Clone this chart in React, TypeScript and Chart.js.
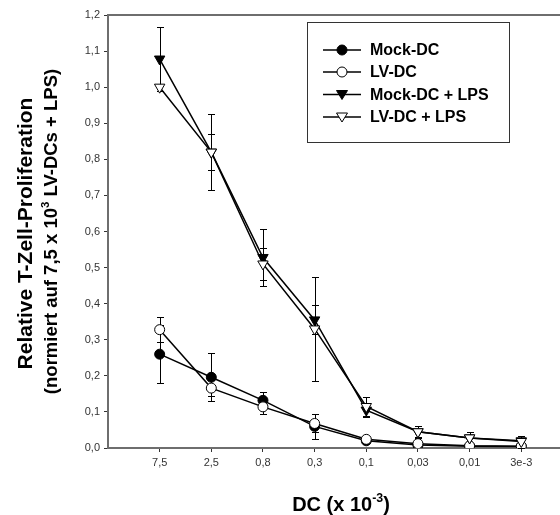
import React, { useEffect, useRef } from "react";
import { Chart, registerables } from "chart.js";

Chart.register(...registerables);

const categories = ["7,5", "2,5", "0,8", "0,3", "0,1", "0,03", "0,01", "3e-3"];
const yTicks = [0, 0.1, 0.2, 0.3, 0.4, 0.5, 0.6, 0.7, 0.8, 0.9, 1.0, 1.1, 1.2];

const mockDC = [0.26, 0.196, 0.132, 0.06, 0.02, 0.008, 0.005, 0.004];
const mockDCErr = [0.08, 0.066, 0.024, 0.035, 0.005, 0.004, 0.003, 0.003];
const lvDC = [0.328, 0.166, 0.114, 0.068, 0.024, 0.012, 0.006, 0.005];
const lvDCErr = [0.034, 0.023, 0.021, 0.025, 0.006, 0.004, 0.003, 0.003];
const mockLPS = [1.078, 0.82, 0.528, 0.355, 0.105, 0.045, 0.028, 0.02];
const mockLPSErr = [0.09, 0.105, 0.08, 0.04, 0.02, 0.015, 0.015, 0.013];
const lvLPS = [1.0, 0.82, 0.51, 0.33, 0.115, 0.045, 0.028, 0.018];
const lvLPSErr = [0, 0.05, 0.045, 0.145, 0.025, 0.017, 0.017, 0.015];

const seriesNames = ["Mock-DC", "LV-DC", "Mock-DC + LPS", "LV-DC + LPS"];

type Part = { t: string; sup?: boolean };

function drawRich(ctx: CanvasRenderingContext2D, parts: Part[], cx: number, baseY: number, size: number) {
  const font = (s: number) => `bold ${s}px Arial, "Liberation Sans", sans-serif`;
  let total = 0;
  const widths = parts.map((p) => {
    ctx.font = font(p.sup ? size * 0.62 : size);
    const w = ctx.measureText(p.t).width;
    total += w;
    return w;
  });
  let x = cx - total / 2;
  ctx.textAlign = "left";
  ctx.textBaseline = "alphabetic";
  parts.forEach((p, i) => {
    ctx.font = font(p.sup ? size * 0.62 : size);
    ctx.fillText(p.t, x, p.sup ? baseY - size * 0.45 : baseY);
    x += widths[i];
  });
}

export default function App() {
  const ref = useRef<HTMLCanvasElement | null>(null);

  useEffect(() => {
    if (!ref.current) return;
    const xs = categories.map((_, i) => i + 1);
    const mk = (vals: number[]) => vals.map((v, i) => ({ x: xs[i], y: v }));
    const errs = [mockDCErr, lvDCErr, mockLPSErr, lvLPSErr];

    const errorBars = {
      id: "errorBars",
      beforeDatasetsDraw(chart: any) {
        const ctx = chart.ctx;
        const xS = chart.scales.x;
        const yS = chart.scales.y;
        ctx.save();
        ctx.strokeStyle = "#000";
        ctx.lineWidth = 1;
        chart.data.datasets.forEach((ds: any, di: number) => {
          ds.data.forEach((p: any, i: number) => {
            const e = errs[di][i];
            if (!e) return;
            const px = Math.round(xS.getPixelForValue(p.x)) + 0.5;
            const yt = Math.round(yS.getPixelForValue(p.y + e)) + 0.5;
            const yb = Math.round(yS.getPixelForValue(Math.max(0, p.y - e))) + 0.5;
            ctx.beginPath();
            ctx.moveTo(px, yt);
            ctx.lineTo(px, yb);
            ctx.moveTo(px - 3.5, yt);
            ctx.lineTo(px + 3.5, yt);
            ctx.moveTo(px - 3.5, yb);
            ctx.lineTo(px + 3.5, yb);
            ctx.stroke();
          });
        });
        ctx.restore();
      },
    };

    const decor = {
      id: "decor",
      afterDraw(chart: any) {
        const ctx = chart.ctx as CanvasRenderingContext2D;
        const a = chart.chartArea;
        ctx.save();
        // top frame line
        ctx.strokeStyle = "#6e6e6e";
        ctx.lineWidth = 2;
        ctx.beginPath();
        ctx.moveTo(a.left - 1, a.top);
        ctx.lineTo(chart.width, a.top);
        ctx.stroke();

        // legend
        ctx.strokeStyle = "#333";
        ctx.lineWidth = 1;
        ctx.strokeRect(307.5, 22.5, 202, 120);
        const rowsY = [50, 72, 94.5, 117];
        chart.data.datasets.forEach((ds: any, i: number) => {
          const y = rowsY[i];
          ctx.strokeStyle = "#000";
          ctx.lineWidth = 1.5;
          ctx.beginPath();
          ctx.moveTo(323, y);
          ctx.lineTo(361, y);
          ctx.stroke();
          ctx.fillStyle = ds.pointBackgroundColor;
          ctx.lineWidth = 1;
          ctx.beginPath();
          if (ds.pointStyle === "circle") {
            ctx.arc(342, y, 5, 0, Math.PI * 2);
          } else {
            ctx.moveTo(336.5, y - 4);
            ctx.lineTo(347.5, y - 4);
            ctx.lineTo(342, y + 5);
            ctx.closePath();
          }
          ctx.fill();
          ctx.stroke();
          ctx.fillStyle = "#000";
          ctx.font = 'bold 16px Arial, "Liberation Sans", sans-serif';
          ctx.textAlign = "left";
          ctx.textBaseline = "middle";
          ctx.fillText(seriesNames[i], 370, y + 1);
        });

        // axis titles
        ctx.fillStyle = "#000";
        const cy = (a.top + a.bottom) / 2;
        ctx.save();
        ctx.translate(32, cy + 2);
        ctx.rotate(-Math.PI / 2);
        drawRich(ctx, [{ t: "Relative T-Zell-Proliferation" }], 0, 0, 21);
        ctx.restore();
        ctx.save();
        ctx.translate(57, cy);
        ctx.rotate(-Math.PI / 2);
        drawRich(
          ctx,
          [{ t: "(normiert auf 7,5 x 10" }, { t: "3", sup: true }, { t: " LV-DCs + LPS)" }],
          0,
          0,
          18.5
        );
        ctx.restore();
        drawRich(ctx, [{ t: "DC (x 10" }, { t: "-3", sup: true }, { t: ")" }], 341, 511, 20);
        ctx.restore();
      },
    };

    const chart = new Chart(ref.current, {
      type: "line",
      data: {
        datasets: [
          { label: seriesNames[0], data: mk(mockDC), pointStyle: "circle", pointRadius: 5, pointBackgroundColor: "#000", order: 3 },
          { label: seriesNames[1], data: mk(lvDC), pointStyle: "circle", pointRadius: 5, pointBackgroundColor: "#fff", order: 2 },
          { label: seriesNames[2], data: mk(mockLPS), pointStyle: "triangle", pointRotation: 180, pointRadius: 6, pointBackgroundColor: "#000", order: 1 },
          { label: seriesNames[3], data: mk(lvLPS), pointStyle: "triangle", pointRotation: 180, pointRadius: 6, pointBackgroundColor: "#fff", order: 0 },
        ].map((d) => ({
          ...d,
          borderColor: "#000",
          borderWidth: 1.5,
          pointBorderColor: "#000",
          pointBorderWidth: 1,
          fill: false,
          tension: 0,
        })) as any,
      },
      options: {
        animation: false,
        responsive: false,
        events: [],
        layout: { padding: { top: 15, left: 0, right: 0, bottom: 0 }, autoPadding: false } as any,
        plugins: { legend: { display: false }, tooltip: { enabled: false } },
        scales: {
          x: {
            type: "linear",
            min: 0,
            max: 8.75,
            afterBuildTicks: (s: any) => {
              s.ticks = categories.map((_, i) => ({ value: i + 1 }));
            },
            afterFit: (s: any) => {
              s.height = 67;
            },
            ticks: {
              autoSkip: false,
              maxRotation: 0,
              padding: 4,
              color: "#333",
              font: { family: 'Arial, "Liberation Sans", sans-serif', size: 11 },
              callback: (v: any) => categories[Math.round(v) - 1] ?? "",
            },
            grid: { drawOnChartArea: false, drawTicks: true, tickLength: 4, color: "#333", lineWidth: 1 },
            border: { display: true, color: "#6e6e6e", width: 2 },
          },
          y: {
            type: "linear",
            min: 0,
            max: 1.2,
            afterBuildTicks: (s: any) => {
              s.ticks = yTicks.map((v) => ({ value: v }));
            },
            afterFit: (s: any) => {
              s.width = 108;
            },
            ticks: {
              padding: 4,
              color: "#333",
              font: { family: 'Arial, "Liberation Sans", sans-serif', size: 11 },
              callback: (v: any) => Number(v).toFixed(1).replace(".", ","),
            },
            grid: { drawOnChartArea: false, drawTicks: true, tickLength: 4, color: "#333", lineWidth: 1 },
            border: { display: true, color: "#6e6e6e", width: 2 },
          },
        },
      },
      plugins: [errorBars, decor],
    });
    return () => chart.destroy();
  }, []);

  return (
    <div style={{ position: "fixed", left: 0, top: 0, width: 560, height: 515, background: "#fff" }}>
      <canvas ref={ref} width={560} height={515} style={{ width: 560, height: 515, display: "block" }} />
    </div>
  );
}
